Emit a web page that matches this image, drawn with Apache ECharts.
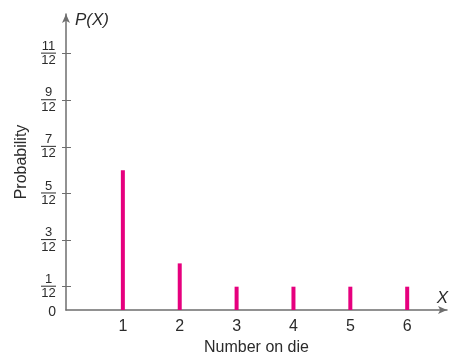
<!DOCTYPE html>
<html><head><meta charset="utf-8">
<script src="https://cdn.jsdelivr.net/npm/echarts@6/dist/echarts.min.js"></script>
<style>html,body{margin:0;padding:0;background:#fff}#c{width:451px;height:361px}</style>
</head><body><div id="c"></div>
<script>
// Number on die
const dieValues = [1, 2, 3, 4, 5, 6];
// Probability numerators (over 12)
const probNumerators = [6, 2, 1, 1, 1, 1];
const denominator = 12;
// y tick labels (numerators over 12)
const yTickNumerators = [1, 3, 5, 7, 9, 11];
const yLabelValues = [0, 1, 3, 5, 7, 9, 11];

const chart = echarts.init(document.getElementById('c'));
const textColor = '#2b2b2b';
const axisColor = '#6e6e6e';
const font = "'Liberation Sans', Arial, sans-serif";

chart.setOption({
  animation: false,
  grid: { left: 66, top: 14, right: 3, bottom: 49.5, containLabel: false },
  xAxis: [{
    type: 'value', min: 0, max: 6.7,
    axisLine: { show: true, lineStyle: { color: axisColor, width: 1.5 }, symbol: ['none', 'arrow'], symbolSize: [6, 9] },
    axisTick: { show: false },
    splitLine: { show: false },
    axisLabel: { customValues: dieValues, color: textColor, fontSize: 16, fontFamily: font, margin: 9 },
    name: 'X', nameLocation: 'end', nameGap: 1,
    nameTextStyle: { fontStyle: 'italic', fontSize: 17, color: textColor, fontFamily: font, align: 'right', verticalAlign: 'bottom', padding: [0, 0, 3, 0] }
  }, {
    type: 'value', min: 0, max: 6.7, position: 'bottom',
    axisLine: { show: false }, axisTick: { show: false }, axisLabel: { show: false }, splitLine: { show: false },
    name: 'Number on die', nameLocation: 'middle', nameGap: 30,
    nameTextStyle: { fontSize: 16, color: textColor, fontFamily: font }
  }],
  yAxis: [{
    type: 'value', min: 0, max: 12.7,
    axisLine: { show: true, lineStyle: { color: axisColor, width: 1.5 }, symbol: ['none', 'arrow'], symbolSize: [6, 9] },
    axisTick: { show: true, customValues: yTickNumerators, length: 4, lineStyle: { color: axisColor, width: 1 } },
    splitLine: { show: false },
    axisLabel: {
      customValues: yLabelValues, margin: 10, color: textColor, fontFamily: font,
      formatter: v => v === 0 ? '{z|0}' : '{n|' + v + '}\n{l| }\n{d|' + denominator + '}',
      rich: {
        z: { fontSize: 14, fontFamily: font, color: textColor, align: 'center', padding: [4, 0, 0, 0] },
        n: { fontSize: 13, lineHeight: 11, fontFamily: font, color: textColor, align: 'center' },
        l: { fontSize: 1, width: 15, height: 1, lineHeight: 3, backgroundColor: textColor, align: 'center' },
        d: { fontSize: 13, lineHeight: 12, fontFamily: font, color: textColor, align: 'center' }
      }
    },
    name: 'P(X)', nameLocation: 'end', nameGap: -6,
    nameTextStyle: { fontStyle: 'italic', fontSize: 17, color: textColor, fontFamily: font, align: 'left', verticalAlign: 'middle', padding: [0, 0, 0, 9] }
  }, {
    type: 'value', min: 0, max: 12.7, position: 'left', offset: 0,
    axisLine: { show: false },
    axisTick: { show: true, inside: true, customValues: yTickNumerators, length: 5, lineStyle: { color: axisColor, width: 1 } },
    axisLabel: { show: false }, splitLine: { show: false },
    name: 'Probability', nameLocation: 'middle', nameGap: 36,
    nameTextStyle: { fontSize: 16, color: textColor, fontFamily: font }
  }],
  series: [{
    type: 'bar', xAxisIndex: 0, yAxisIndex: 0, barWidth: 4,
    itemStyle: { color: '#e6007e' },
    data: dieValues.map((d, i) => [d, probNumerators[i]])
  }]
});
</script></body></html>
